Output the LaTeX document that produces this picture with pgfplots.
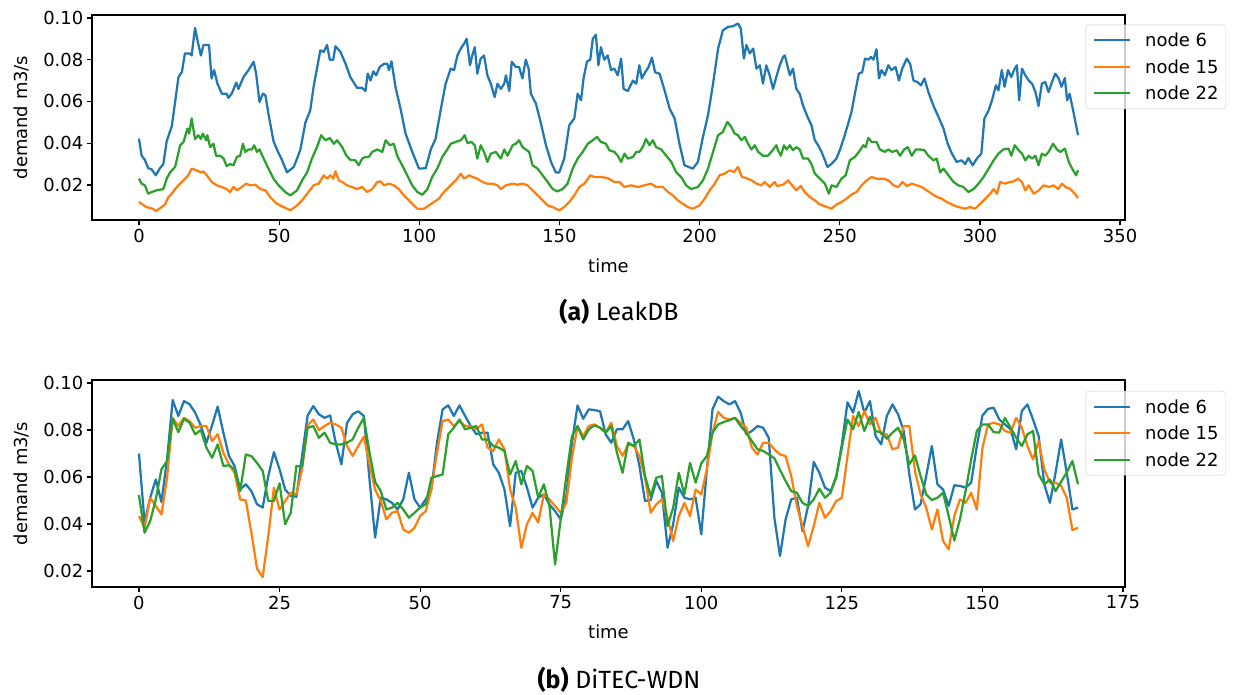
\documentclass[border=0pt]{standalone}
\usepackage{fontspec}
\setmainfont{DejaVu Sans}
\newfontfamily\capfont{Fira Sans}
\usepackage{pgfplots}
\usepackage{pgfplotstable}
\pgfplotsset{compat=1.18}

\definecolor{tabblue}{HTML}{1F77B4}
\definecolor{taborange}{HTML}{FF7F0E}
\definecolor{tabgreen}{HTML}{2CA02C}

% DiTEC-WDN: demand per hour, nodes 6, 15, 22
\pgfplotstableread{
t n6 n15 n22
0 0.0700 0.0434 0.0523
1 0.0406 0.0384 0.0363
2 0.0512 0.0512 0.0413
3 0.0590 0.0477 0.0505
4 0.0494 0.0441 0.0633
5 0.0675 0.0597 0.0668
6 0.0928 0.0852 0.0848
7 0.0860 0.0817 0.0791
8 0.0923 0.0852 0.0848
9 0.0910 0.0838 0.0831
10 0.0874 0.0810 0.0782
11 0.0820 0.0817 0.0800
12 0.0746 0.0817 0.0725
13 0.0820 0.0753 0.0682
14 0.0900 0.0782 0.0739
15 0.0790 0.0704 0.0647
16 0.0690 0.0654 0.0650
17 0.0647 0.0618 0.0633
18 0.0547 0.0505 0.0540
19 0.0569 0.0500 0.0696
20 0.0540 0.0363 0.0689
21 0.0484 0.0210 0.0660
22 0.0470 0.0174 0.0626
23 0.0604 0.0349 0.0498
24 0.0706 0.0555 0.0498
25 0.0633 0.0462 0.0573
26 0.0547 0.0498 0.0399
27 0.0520 0.0533 0.0448
28 0.0516 0.0526 0.0647
29 0.0690 0.0633 0.0644
30 0.0862 0.0820 0.0810
31 0.0902 0.0845 0.0817
32 0.0867 0.0800 0.0767
33 0.0852 0.0817 0.0789
34 0.0862 0.0831 0.0746
35 0.0746 0.0824 0.0739
36 0.0654 0.0810 0.0739
37 0.0830 0.0732 0.0746
38 0.0867 0.0690 0.0760
39 0.0880 0.0732 0.0810
40 0.0860 0.0772 0.0852
41 0.0590 0.0654 0.0704
42 0.0342 0.0547 0.0579
43 0.0512 0.0498 0.0540
44 0.0505 0.0420 0.0462
45 0.0490 0.0448 0.0470
46 0.0462 0.0455 0.0490
47 0.0505 0.0377 0.0462
48 0.0618 0.0363 0.0427
49 0.0505 0.0384 0.0448
50 0.0470 0.0434 0.0470
51 0.0505 0.0455 0.0484
52 0.0547 0.0547 0.0597
53 0.0746 0.0704 0.0604
54 0.0888 0.0838 0.0611
55 0.0905 0.0845 0.0782
56 0.0860 0.0817 0.0810
57 0.0905 0.0838 0.0845
58 0.0860 0.0817 0.0803
59 0.0817 0.0817 0.0810
60 0.0782 0.0803 0.0817
61 0.0789 0.0824 0.0760
62 0.0789 0.0725 0.0760
63 0.0654 0.0711 0.0732
64 0.0618 0.0760 0.0725
65 0.0547 0.0718 0.0711
66 0.0391 0.0547 0.0611
67 0.0618 0.0470 0.0668
68 0.0626 0.0299 0.0569
69 0.0555 0.0399 0.0647
70 0.0470 0.0448 0.0626
71 0.0512 0.0406 0.0512
72 0.0526 0.0526 0.0569
73 0.0484 0.0505 0.0477
74 0.0455 0.0477 0.0228
75 0.0420 0.0448 0.0420
76 0.0519 0.0490 0.0604
77 0.0746 0.0682 0.0774
78 0.0905 0.0817 0.0817
79 0.0848 0.0774 0.0760
80 0.0888 0.0817 0.0803
81 0.0885 0.0824 0.0820
82 0.0880 0.0810 0.0810
83 0.0782 0.0789 0.0789
84 0.0746 0.0831 0.0817
85 0.0803 0.0732 0.0704
86 0.0803 0.0690 0.0618
87 0.0838 0.0739 0.0746
88 0.0760 0.0732 0.0732
89 0.0647 0.0690 0.0760
90 0.0498 0.0597 0.0604
91 0.0502 0.0448 0.0519
92 0.0583 0.0484 0.0597
93 0.0533 0.0505 0.0604
94 0.0299 0.0427 0.0391
95 0.0399 0.0328 0.0470
96 0.0555 0.0434 0.0618
97 0.0512 0.0490 0.0526
98 0.0505 0.0434 0.0660
99 0.0512 0.0547 0.0576
100 0.0356 0.0526 0.0658
101 0.0633 0.0633 0.0690
102 0.0888 0.0789 0.0789
103 0.0942 0.0877 0.0824
104 0.0923 0.0852 0.0834
105 0.0909 0.0845 0.0842
106 0.0923 0.0852 0.0852
107 0.0874 0.0831 0.0817
108 0.0782 0.0810 0.0789
109 0.0796 0.0725 0.0753
110 0.0817 0.0696 0.0718
111 0.0810 0.0746 0.0711
112 0.0767 0.0746 0.0696
113 0.0427 0.0718 0.0680
114 0.0264 0.0696 0.0630
115 0.0420 0.0689 0.0583
116 0.0505 0.0604 0.0540
117 0.0512 0.0477 0.0533
118 0.0370 0.0391 0.0490
119 0.0477 0.0306 0.0477
120 0.0664 0.0391 0.0505
121 0.0618 0.0490 0.0550
122 0.0555 0.0427 0.0512
123 0.0540 0.0455 0.0533
124 0.0597 0.0498 0.0604
125 0.0739 0.0512 0.0725
126 0.0918 0.0689 0.0845
127 0.0874 0.0860 0.0803
128 0.0966 0.0817 0.0877
129 0.0874 0.0881 0.0796
130 0.0923 0.0824 0.0857
131 0.0774 0.0852 0.0796
132 0.0739 0.0782 0.0789
133 0.0860 0.0782 0.0763
134 0.0909 0.0718 0.0789
135 0.0867 0.0725 0.0810
136 0.0796 0.0817 0.0760
137 0.0611 0.0817 0.0654
138 0.0462 0.0626 0.0692
139 0.0484 0.0526 0.0604
140 0.0604 0.0470 0.0526
141 0.0732 0.0377 0.0502
142 0.0569 0.0462 0.0512
143 0.0547 0.0328 0.0533
144 0.0477 0.0292 0.0434
145 0.0565 0.0434 0.0330
146 0.0562 0.0505 0.0420
147 0.0555 0.0490 0.0540
148 0.0576 0.0533 0.0675
149 0.0732 0.0462 0.0796
150 0.0862 0.0725 0.0824
151 0.0890 0.0824 0.0824
152 0.0895 0.0831 0.0791
153 0.0845 0.0824 0.0789
154 0.0824 0.0796 0.0852
155 0.0803 0.0789 0.0810
156 0.0718 0.0852 0.0767
157 0.0881 0.0810 0.0732
158 0.0909 0.0732 0.0782
159 0.0845 0.0675 0.0796
160 0.0774 0.0753 0.0611
161 0.0569 0.0633 0.0569
162 0.0490 0.0576 0.0590
163 0.0618 0.0576 0.0540
164 0.0760 0.0562 0.0580
165 0.0618 0.0512 0.0620
166 0.0462 0.0374 0.0668
167 0.0470 0.0384 0.0569
}\ditec

\pgfplotsset{
  demand/.style={
    scale only axis, width=1033bp,
    axis line style={line width=1.2bp},
    tick align=outside, major tick length=5.25bp,
    every tick/.style={black, line width=1.2bp},
    xtick pos=bottom, ytick pos=left,
    ticklabel style={font=\fontsize{18}{21}\selectfont},
    /pgf/number format/assume math mode=true,
    scaled y ticks=false,
    ytick={0.02,0.04,0.06,0.08,0.10},
    yticklabel style={/pgf/number format/.cd, fixed, fixed zerofill, precision=2},
    label style={font=\fontsize{18}{21}\selectfont},
    xlabel={time}, ylabel={demand m3/s},
    legend cell align=left,
    legend image code/.code={\draw[##1] (0bp,0bp) -- (36bp,0bp);},
    legend style={anchor=north west, draw=black!20, rounded corners=3bp,
      fill=white, fill opacity=0.8, text opacity=1, draw opacity=1,
      font=\fontsize{18}{21}\selectfont, row sep=13.5bp,
      inner xsep=7bp, inner ysep=9bp,
      nodes={inner sep=0bp, text height=13bp, text depth=0bp},
      /tikz/every odd column/.append style={column sep=14bp}},
    every axis plot/.append style={line width=2.25bp, line join=round},
  }
}

\begin{document}
\begin{tikzpicture}
\useasboundingbox (0,0) rectangle (1235bp,695bp);

% (a) LeakDB
\begin{axis}[demand, at={(92bp,475bp)}, anchor=south west, height=205bp,
  xmin=-16.75, xmax=351.75, ymin=0.0032, ymax=0.1014,
  xtick={0,50,...,350},
  xlabel style={at={(rel axis cs:0.5,-0.2244)}, anchor=center},
  ylabel style={at={(rel axis cs:-0.0678,0.5)}, anchor=center},
  legend style={at={(0.962,0.953)}}]
\addplot[tabblue] coordinates {(0,0.0422) (0.95,0.034) (2.1,0.032) (3.3,0.028) (4.5,0.0275) (6.0,0.0246) (7.5,0.028) (8.7,0.030) (9.9,0.041) (11.7,0.048) (12.9,0.0597) (14.1,0.0717) (15.3,0.074) (16.4,0.083) (18.0,0.083) (18.8,0.082) (20.0,0.0952) (21.0,0.0885) (22.1,0.082) (23.0,0.087) (25.0,0.087) (25.9,0.071) (26.8,0.075) (28.0,0.0685) (29.6,0.0637) (31.3,0.0637) (31.9,0.0617) (33.1,0.0637) (34.7,0.069) (35.5,0.066) (37.3,0.0717) (39.1,0.075) (40.9,0.079) (41.8,0.0733) (43.0,0.0597) (44.2,0.0637) (45.1,0.063) (46.2,0.054) (48.0,0.041) (49.2,0.037) (51.0,0.032) (52.8,0.026) (55.2,0.0286) (56.4,0.0326) (57.6,0.037) (59.4,0.050) (61.1,0.0557) (62.3,0.067) (63.5,0.0757) (64.7,0.0845) (65.9,0.0837) (67.1,0.087) (68.1,0.080) (69.3,0.080) (70.1,0.0864) (71.9,0.0837) (73.7,0.078) (75.4,0.0717) (77.8,0.0665) (79.6,0.0665) (80.8,0.065) (81.6,0.0733) (82.6,0.070) (83.6,0.0744) (84.6,0.0725) (85.9,0.0765) (87.4,0.078) (88.6,0.078) (89.2,0.075) (90.1,0.0792) (91.5,0.067) (93.3,0.0566) (95.1,0.0446) (97.5,0.0358) (99.9,0.0278) (102.3,0.028) (104.1,0.037) (105.8,0.042) (107.6,0.0557) (109.4,0.0685) (111.2,0.0757) (112.4,0.075) (113.6,0.082) (114.8,0.0853) (116.0,0.0877) (116.9,0.090) (118.1,0.0773) (118.9,0.082) (119.8,0.086) (120.7,0.0733) (121.9,0.0805) (123.1,0.082) (124.3,0.0725) (125.5,0.0685) (126.9,0.0621) (127.9,0.0685) (129.1,0.066) (130.3,0.0685) (130.9,0.0725) (132.1,0.065) (133.0,0.079) (134.4,0.0765) (135.6,0.0765) (136.8,0.071) (138.0,0.080) (139.0,0.0757) (139.8,0.0637) (141.6,0.059) (143.4,0.0494) (145.2,0.039) (147.0,0.031) (148.7,0.026) (149.9,0.0259) (151.7,0.0326) (153.5,0.0486) (155.3,0.0518) (156.5,0.0637) (157.7,0.0605) (158.6,0.071) (159.8,0.079) (161.0,0.080) (161.9,0.090) (163.0,0.092) (163.9,0.0773) (164.8,0.086) (166.0,0.080) (167.2,0.082) (168.4,0.075) (169.6,0.0757) (170.8,0.0725) (172.0,0.0805) (172.9,0.066) (174.4,0.065) (176.2,0.070) (177.4,0.0685) (178.5,0.0773) (179.4,0.071) (180.6,0.074) (181.8,0.0765) (183.0,0.081) (184.1,0.074) (185.7,0.0733) (187.5,0.0653) (189.3,0.0566) (191.1,0.0518) (192.8,0.0398) (194.6,0.0294) (196.1,0.0286) (197.6,0.0278) (199.4,0.031) (201.2,0.043) (203.0,0.0534) (204.8,0.0685) (206.6,0.0853) (208.3,0.094) (210.1,0.0957) (211.9,0.096) (213.7,0.0973) (214.7,0.0949) (215.8,0.0805) (216.7,0.087) (217.9,0.083) (219.1,0.0853) (220.3,0.0757) (221.5,0.0773) (222.6,0.0685) (223.8,0.0773) (225.0,0.0725) (226.2,0.066) (227.7,0.0733) (228.6,0.0773) (229.8,0.0813) (230.4,0.082) (231.3,0.0773) (232.2,0.0725) (233.3,0.0757) (234.5,0.066) (235.7,0.0637) (236.9,0.058) (238.5,0.0526) (239.9,0.0486) (241.1,0.0414) (242.3,0.039) (243.5,0.0358) (244.7,0.0318) (245.6,0.0286) (247.0,0.030) (248.8,0.0326) (250.0,0.0366) (251.6,0.043) (253.0,0.0494) (254.2,0.055) (255.4,0.0637) (256.8,0.0733) (258.0,0.074) (259.0,0.0805) (260.2,0.080) (261.1,0.0813) (262.0,0.080) (263.1,0.085) (264.0,0.071) (264.9,0.075) (266.1,0.0725) (267.3,0.0773) (268.5,0.075) (269.9,0.0765) (271.1,0.070) (272.3,0.0757) (273.9,0.0805) (275.1,0.078) (276.3,0.070) (277.7,0.0693) (279.0,0.0677) (280.2,0.071) (281.6,0.0645) (283.4,0.058) (285.2,0.0526) (287.0,0.047) (288.5,0.0398) (290.0,0.035) (291.7,0.031) (293.5,0.0318) (294.7,0.030) (295.9,0.0329) (297.4,0.0294) (298.9,0.0326) (300.5,0.035) (301.6,0.0518) (303.1,0.0557) (304.3,0.0605) (305.7,0.0677) (306.6,0.0653) (307.8,0.075) (308.8,0.067) (310.0,0.075) (311.2,0.0717) (312.4,0.0757) (313.2,0.0773) (314.0,0.0605) (315.0,0.0757) (316.2,0.0725) (317.4,0.070) (318.6,0.0685) (319.8,0.0645) (320.9,0.0578) (322.1,0.0685) (323.3,0.0693) (324.5,0.0645) (325.7,0.0693) (326.9,0.0733) (328.1,0.071) (329.1,0.067) (330.3,0.0712) (331.1,0.0605) (332.0,0.0637) (333.5,0.054) (335,0.0438)};
\addlegendentry{node 6}
\addplot[taborange] coordinates {(0,0.0118) (2.6,0.0094) (4.9,0.0086) (6.1,0.0075) (8.1,0.0094) (9.3,0.0106) (10.5,0.0142) (11.7,0.0158) (12.9,0.018) (14.1,0.0198) (15.9,0.0222) (17.6,0.0246) (18.8,0.0278) (20.6,0.027) (22.1,0.0259) (23.0,0.0265) (24.2,0.0246) (26.0,0.0214) (27.8,0.0198) (29.6,0.019) (31.3,0.018) (32.5,0.0166) (33.7,0.019) (34.9,0.0174) (36.7,0.019) (38.3,0.0206) (39.7,0.0198) (41.5,0.0201) (43.3,0.018) (45.1,0.0174) (46.8,0.0142) (49.2,0.011) (51.6,0.0094) (54.0,0.0078) (56.4,0.0102) (58.2,0.0126) (60.0,0.0158) (62.3,0.0198) (64.1,0.0206) (65.9,0.0246) (67.1,0.023) (68.3,0.0246) (69.3,0.023) (70.1,0.0265) (71.3,0.0222) (72.5,0.0214) (74.3,0.0198) (76.0,0.019) (77.8,0.018) (79.6,0.019) (81.4,0.0166) (83.2,0.018) (85.0,0.0214) (86.2,0.0217) (87.4,0.0198) (89.2,0.0206) (90.9,0.0198) (92.7,0.018) (94.5,0.015) (96.9,0.0118) (99.3,0.0086) (101.7,0.0086) (103.5,0.0102) (105.2,0.0118) (107.0,0.0134) (108.8,0.0166) (110.6,0.019) (112.4,0.0214) (113.0,0.0222) (114.8,0.0254) (116.0,0.023) (117.8,0.0246) (119.0,0.0238) (120.7,0.023) (122.5,0.0214) (124.3,0.0206) (126.1,0.0206) (127.9,0.0198) (129.1,0.018) (130.9,0.0198) (133.3,0.0206) (135.0,0.0201) (136.8,0.0206) (138.6,0.0198) (140.4,0.0174) (142.2,0.015) (144.0,0.0126) (145.8,0.0102) (147.6,0.0094) (149.9,0.0078) (151.7,0.0094) (153.5,0.0118) (155.3,0.015) (157.1,0.019) (158.9,0.0206) (161.0,0.0246) (162.5,0.0238) (164.8,0.0238) (167.2,0.0233) (169.6,0.0214) (171.4,0.0214) (173.2,0.019) (175.6,0.0198) (177.9,0.019) (180.3,0.0198) (182.7,0.0206) (184.5,0.019) (186.9,0.019) (188.7,0.0166) (190.5,0.015) (192.2,0.0126) (194.0,0.011) (195.8,0.0094) (197.6,0.0086) (200.0,0.0102) (201.8,0.0134) (203.6,0.0174) (205.4,0.0206) (207.1,0.0246) (208.9,0.0254) (210.7,0.027) (212.3,0.0262) (213.7,0.0286) (215.1,0.0238) (216.7,0.0233) (218.5,0.0222) (220.3,0.0206) (222.0,0.0198) (223.2,0.0214) (225.0,0.019) (226.8,0.0214) (227.6,0.0195) (229.8,0.0201) (231.6,0.0222) (232.8,0.0201) (234.5,0.0174) (236.1,0.0195) (237.5,0.0166) (239.3,0.0142) (241.1,0.0126) (242.9,0.0106) (244.7,0.0098) (247.1,0.0086) (248.8,0.0106) (250.6,0.0118) (252.4,0.0134) (254.2,0.0154) (256.0,0.0166) (257.8,0.0198) (259.6,0.0222) (261.4,0.0238) (263.1,0.023) (265.5,0.023) (267.3,0.0222) (269.1,0.0198) (270.9,0.019) (272.4,0.0214) (273.9,0.0195) (275.7,0.0206) (277.4,0.0198) (279.2,0.019) (281.0,0.0174) (282.8,0.0158) (284.6,0.0142) (286.4,0.0134) (288.2,0.0118) (290.0,0.0106) (292.3,0.0094) (294.7,0.0086) (296.5,0.0094) (298.3,0.0086) (300.1,0.011) (301.9,0.0134) (303.7,0.0158) (304.9,0.018) (306.1,0.0158) (307.2,0.0214) (309.0,0.0206) (310.5,0.0214) (312.0,0.0217) (313.6,0.023) (315.0,0.0214) (316.2,0.0174) (317.4,0.0198) (319.2,0.0158) (321.0,0.0174) (322.7,0.0198) (324.5,0.019) (326.3,0.0198) (327.9,0.018) (329.3,0.0206) (330.5,0.019) (332.3,0.018) (333.8,0.0158) (335,0.0137)};
\addlegendentry{node 15}
\addplot[tabgreen] coordinates {(0,0.023) (0.95,0.0206) (2.1,0.0198) (3.3,0.0158) (4.5,0.0166) (6.3,0.0174) (8.7,0.018) (9.9,0.023) (11.1,0.026) (12.9,0.0286) (14.7,0.039) (15.9,0.0406) (17.3,0.047) (17.9,0.0446) (18.8,0.0518) (20.0,0.042) (21.2,0.0438) (22.1,0.042) (22.8,0.0446) (24.0,0.0414) (24.4,0.0438) (25.4,0.0381) (26.6,0.0397) (27.5,0.034) (29.0,0.034) (30.2,0.0326) (31.3,0.029) (32.5,0.030) (33.7,0.0294) (34.9,0.0334) (36.1,0.034) (37.1,0.0397) (37.9,0.0358) (39.1,0.037) (40.3,0.037) (41.1,0.039) (42.1,0.0358) (43.0,0.037) (44.5,0.0326) (46.2,0.0278) (48.0,0.023) (49.8,0.0198) (52.2,0.0166) (54.0,0.015) (56.4,0.0174) (58.2,0.0222) (60.0,0.026) (61.7,0.0326) (63.5,0.0381) (65.0,0.0438) (66.5,0.0414) (68.1,0.0425) (69.5,0.0397) (70.7,0.0414) (72.5,0.0381) (74.0,0.034) (75.4,0.032) (77.2,0.0318) (78.4,0.0294) (79.6,0.0326) (80.8,0.0334) (82.0,0.0334) (83.2,0.0358) (85.0,0.037) (86.8,0.0358) (88.0,0.0414) (89.5,0.039) (90.9,0.0397) (92.1,0.034) (93.9,0.0294) (95.7,0.0246) (97.5,0.0198) (99.3,0.0166) (101.1,0.0153) (102.9,0.018) (104.6,0.0238) (106.4,0.0278) (108.2,0.0334) (110.0,0.037) (111.2,0.0397) (113.0,0.0406) (114.8,0.0414) (116.2,0.0438) (117.2,0.040) (118.6,0.0406) (119.8,0.039) (120.7,0.0326) (121.9,0.039) (123.1,0.0358) (124.3,0.031) (125.5,0.035) (127.3,0.0358) (129.1,0.0326) (130.3,0.037) (131.5,0.034) (133.3,0.039) (134.4,0.0397) (135.6,0.0414) (136.8,0.0381) (138.0,0.037) (139.2,0.0358) (140.4,0.0294) (142.2,0.0278) (144.0,0.0246) (145.8,0.0214) (147.6,0.018) (149.3,0.0169) (151.1,0.018) (152.9,0.0206) (154.7,0.0278) (156.5,0.0326) (158.3,0.0358) (160.1,0.0397) (161.9,0.0414) (163.4,0.043) (164.8,0.0406) (166.6,0.0397) (167.8,0.0366) (169.6,0.0358) (170.8,0.034) (172.0,0.031) (173.2,0.035) (174.4,0.0326) (176.2,0.0334) (177.4,0.0358) (178.5,0.0358) (179.7,0.0381) (180.9,0.042) (182.1,0.039) (183.3,0.0414) (184.5,0.0381) (186.3,0.037) (188.1,0.034) (189.9,0.031) (191.7,0.026) (193.4,0.0238) (195.2,0.0198) (197.0,0.018) (199.4,0.019) (201.2,0.0222) (203.0,0.0278) (204.8,0.0358) (206.6,0.0438) (208.3,0.0454) (209.9,0.0502) (211.3,0.0478) (212.5,0.0446) (213.7,0.0438) (214.9,0.0414) (216.1,0.043) (217.3,0.0397) (218.5,0.037) (219.7,0.039) (220.9,0.0358) (222.6,0.034) (224.4,0.034) (225.6,0.0358) (227.4,0.039) (228.0,0.0366) (229.0,0.034) (230.1,0.039) (231.0,0.037) (232.2,0.039) (233.3,0.0366) (234.5,0.0381) (235.7,0.037) (236.9,0.0326) (238.7,0.0326) (239.9,0.030) (241.1,0.0254) (242.9,0.023) (244.7,0.0206) (246.1,0.0158) (247.1,0.0198) (248.8,0.019) (250.6,0.023) (252.1,0.0246) (253.6,0.0318) (255.4,0.0334) (256.8,0.0358) (258.4,0.039) (259.2,0.0381) (260.2,0.0425) (261.4,0.0406) (263.1,0.0406) (264.3,0.037) (266.1,0.0358) (267.3,0.037) (268.7,0.0358) (270.3,0.0366) (271.5,0.034) (273.0,0.037) (274.2,0.0381) (275.7,0.034) (277.1,0.037) (278.6,0.037) (280.2,0.0366) (281.6,0.034) (283.4,0.0318) (284.6,0.0326) (285.8,0.026) (287.0,0.0278) (288.8,0.0246) (290.6,0.0214) (292.3,0.0198) (294.1,0.019) (295.9,0.0166) (297.7,0.018) (299.5,0.0206) (301.3,0.0238) (303.1,0.0278) (304.9,0.0318) (306.6,0.035) (308.4,0.037) (310.2,0.0374) (311.2,0.034) (312.4,0.039) (313.8,0.0366) (315.0,0.035) (316.2,0.0318) (317.4,0.034) (318.6,0.0326) (319.8,0.034) (320.9,0.0294) (322.1,0.035) (323.3,0.034) (324.5,0.0358) (326.1,0.0397) (327.5,0.037) (328.7,0.0358) (330.3,0.0374) (331.7,0.031) (332.9,0.0278) (334.3,0.0246) (335,0.027)};
\addlegendentry{node 22}
\end{axis}

% (b) DiTEC-WDN
\begin{axis}[demand, at={(92bp,108bp)}, anchor=south west, height=207bp,
  xmin=-8.35, xmax=175.35, ymin=0.0132, ymax=0.1013,
  xtick={0,25,...,175},
  xlabel style={at={(rel axis cs:0.5,-0.217)}, anchor=center},
  ylabel style={at={(rel axis cs:-0.0678,0.5)}, anchor=center},
  legend style={at={(0.962,0.947)}}]
\addplot[tabblue] table[x=t, y=n6] {\ditec};
\addlegendentry{node 6}
\addplot[taborange] table[x=t, y=n15] {\ditec};
\addlegendentry{node 15}
\addplot[tabgreen] table[x=t, y=n22] {\ditec};
\addlegendentry{node 22}
\end{axis}

\node[font=\capfont\fontsize{25}{30}\selectfont, anchor=base] at (619bp,374bp) {\textbf{(a)} LeakDB};
\node[font=\capfont\fontsize{25}{30}\selectfont, anchor=base] at (619bp,7bp) {\textbf{(b)} DiTEC-WDN};
\end{tikzpicture}
\end{document}
